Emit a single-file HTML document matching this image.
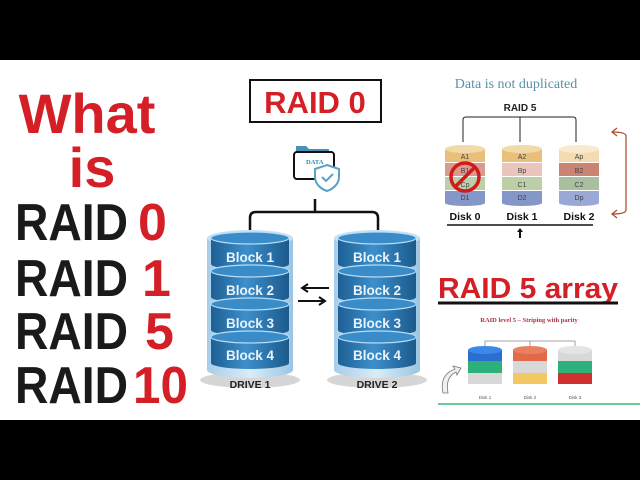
<!DOCTYPE html>
<html><head><meta charset="utf-8"><style>
html,body{margin:0;padding:0;width:640px;height:480px;overflow:hidden;background:#000}
svg{display:block}
</style></head><body>
<svg width="640" height="480" viewBox="0 0 640 480" xmlns="http://www.w3.org/2000/svg">
<defs>
<linearGradient id="bl" x1="0" x2="1">
<stop offset="0" stop-color="#1d5f94"/><stop offset="0.45" stop-color="#3d8fcb"/><stop offset="1" stop-color="#1b5a8c"/></linearGradient>
<linearGradient id="sh" x1="0" x2="1">
<stop offset="0" stop-color="#a8cde8"/><stop offset="0.5" stop-color="#d9ecf8"/><stop offset="1" stop-color="#9cc4e2"/></linearGradient>
<g id="seg">
<path d="M0,0 v26 a39,6 0 0 0 78,0 v-26 z" fill="url(#bl)"/>
<ellipse cx="39" cy="0" rx="39" ry="6" fill="#3a8cc8" stroke="#b8dcf4" stroke-width="1.2"/>
</g>
<g id="drive">
<ellipse cx="43" cy="150" rx="50" ry="8" fill="#bbb" opacity="0.6"/>
<path d="M0,8 v132 a43,8 0 0 0 86,0 v-132 z" fill="url(#sh)"/>
<ellipse cx="43" cy="8" rx="43" ry="8" fill="#c8e2f4"/>
<use href="#seg" x="4" y="8"/>
<use href="#seg" x="4" y="41"/>
<use href="#seg" x="4" y="74"/>
<use href="#seg" x="4" y="107"/>
</g>
</defs>
<rect x="0" y="60" width="640" height="360" fill="#fff"/>

<!-- left titles -->
<g font-family="Liberation Sans, sans-serif" font-weight="bold">
<text x="87" y="133" font-size="56" fill="#d41f26" text-anchor="middle">What</text>
<text x="92" y="187" font-size="56" fill="#d41f26" text-anchor="middle">is</text>
<g font-size="52">
<text x="15" y="240" fill="#1a1a1a" textLength="113" lengthAdjust="spacingAndGlyphs">RAID</text>
<text x="138" y="240" fill="#d41f26">0</text>
<text x="15" y="296" fill="#1a1a1a" textLength="113" lengthAdjust="spacingAndGlyphs">RAID</text>
<text x="142" y="296" fill="#d41f26">1</text>
<text x="15" y="349" fill="#1a1a1a" textLength="113" lengthAdjust="spacingAndGlyphs">RAID</text>
<text x="145" y="349" fill="#d41f26">5</text>
<text x="15" y="403" fill="#1a1a1a" textLength="113" lengthAdjust="spacingAndGlyphs">RAID</text>
<text x="133" y="403" fill="#d41f26" textLength="55" lengthAdjust="spacingAndGlyphs">10</text>
</g>
</g>

<!-- RAID 0 -->
<rect x="250" y="80" width="131" height="42" fill="#fff" stroke="#111" stroke-width="2"/>
<text x="315" y="113" font-family="Liberation Sans, sans-serif" font-weight="bold" font-size="31" fill="#d41f26" text-anchor="middle">RAID 0</text>

<!-- folder icon -->
<path d="M296,146 h10 l3,3 h20 v4 h-33 z" fill="#4a8fb8"/>
<rect x="294" y="152" width="40" height="27" rx="3" fill="#fff" stroke="#111" stroke-width="2"/>
<text x="306" y="164" font-family="Liberation Serif, serif" font-weight="bold" font-size="6.5" fill="#2b8fc0">DATA</text>
<path d="M327,165 l12,4 v8 c0,7 -6,12 -12,14 c-6,-2 -12,-7 -12,-14 v-8 z" fill="#fff" stroke="#5aa0c8" stroke-width="2"/>
<path d="M322,177 l4,4 l7,-7" fill="none" stroke="#5aa0c8" stroke-width="2"/>

<!-- connector -->
<path d="M315,199 v13 M250,232 v-14 q0,-6 6,-6 h116 q6,0 6,6 v14" fill="none" stroke="#111" stroke-width="2.5"/>

<use href="#drive" x="207" y="230"/>
<use href="#drive" x="334" y="230"/>
<g font-family="Liberation Sans, sans-serif" font-weight="bold" font-size="13.5" fill="#e8f3fb" text-anchor="middle">
<text x="250" y="262">Block 1</text><text x="250" y="295">Block 2</text><text x="250" y="328">Block 3</text><text x="250" y="360">Block 4</text>
<text x="377" y="262">Block 1</text><text x="377" y="295">Block 2</text><text x="377" y="328">Block 3</text><text x="377" y="360">Block 4</text>
</g>
<g font-family="Liberation Sans, sans-serif" font-weight="bold" font-size="10.5" fill="#222" text-anchor="middle">
<text x="250" y="388">DRIVE 1</text><text x="377" y="388">DRIVE 2</text>
</g>
<path d="M329,288 h-26 M308,284 l-6,4 l6,4 M298,301 h26 M319,297 l6,4 l-6,4" fill="none" stroke="#111" stroke-width="2"/>

<!-- RAID 5 top right -->
<text x="516" y="88" font-family="Liberation Serif, serif" font-size="14" fill="#5a90a8" text-anchor="middle">Data is not duplicated</text>
<text x="520" y="111" font-family="Liberation Sans, sans-serif" font-weight="bold" font-size="10" fill="#222" text-anchor="middle">RAID 5</text>
<path d="M463,142 v-22 q0,-3 3,-3 h107 q3,0 3,3 v22 M520,117 v25" fill="none" stroke="#222" stroke-width="1"/>
<g font-family="Liberation Sans, sans-serif" font-size="7" text-anchor="middle" fill="#444">
<!-- disk0 -->
<rect x="445" y="149" width="40" height="13" fill="#e8c07a"/><rect x="445" y="163" width="40" height="13" fill="#d99a90"/>
<rect x="445" y="177" width="40" height="13" fill="#bcd0a8"/><rect x="445" y="191" width="40" height="12" fill="#8596c8"/>
<ellipse cx="465" cy="149" rx="20" ry="4" fill="#f2d9a8"/><ellipse cx="465" cy="203" rx="20" ry="3" fill="#8596c8"/>
<text x="465" y="159">A1</text><text x="465" y="173">B1</text><text x="465" y="187">Cp</text><text x="465" y="200">D1</text>
<!-- disk1 -->
<rect x="502" y="149" width="40" height="13" fill="#e8c07a"/><rect x="502" y="163" width="40" height="13" fill="#ebc4be"/>
<rect x="502" y="177" width="40" height="13" fill="#bcd0a8"/><rect x="502" y="191" width="40" height="12" fill="#8596c8"/>
<ellipse cx="522" cy="149" rx="20" ry="4" fill="#f2d9a8"/><ellipse cx="522" cy="203" rx="20" ry="3" fill="#8596c8"/>
<text x="522" y="159">A2</text><text x="522" y="173">Bp</text><text x="522" y="187">C1</text><text x="522" y="200">D2</text>
<!-- disk2 -->
<rect x="559" y="149" width="40" height="13" fill="#f2dcb0"/><rect x="559" y="163" width="40" height="13" fill="#c98474"/>
<rect x="559" y="177" width="40" height="13" fill="#a9c0a0"/><rect x="559" y="191" width="40" height="12" fill="#9aa8d8"/>
<ellipse cx="579" cy="149" rx="20" ry="4" fill="#f8ead0"/><ellipse cx="579" cy="203" rx="20" ry="3" fill="#9aa8d8"/>
<text x="579" y="159">Ap</text><text x="579" y="173">B2</text><text x="579" y="187">C2</text><text x="579" y="200">Dp</text>
</g>
<circle cx="465" cy="177" r="14" fill="none" stroke="#d21a1a" stroke-width="3.5"/>
<path d="M455,187 L475,167" stroke="#d21a1a" stroke-width="3.5"/>
<g font-family="Liberation Sans, sans-serif" font-weight="bold" font-size="10.5" fill="#111" text-anchor="middle">
<text x="465" y="220">Disk 0</text><text x="522" y="220">Disk 1</text><text x="579" y="220">Disk 2</text>
</g>
<path d="M447,225 h146" stroke="#111" stroke-width="1.5"/>
<path d="M520,238 v-7" stroke="#111" stroke-width="2"/><path d="M517,232 l3,-4 l3,4 z" fill="#111"/>
<path d="M612,132 q14,0 14,4 v74 q0,4 -14,4 M617,128 l-5,4 l5,4 M617,210 l-5,4 l5,4" fill="none" stroke="#b0502e" stroke-width="1.3"/>

<!-- RAID 5 array -->
<text x="438" y="298" font-family="Liberation Sans, sans-serif" font-weight="bold" font-size="29" fill="#d41f26" textLength="180" lengthAdjust="spacingAndGlyphs">RAID 5 array</text>
<path d="M438,303 h180" stroke="#111" stroke-width="3"/>
<text x="529" y="322" font-family="Liberation Serif, serif" font-weight="bold" font-size="6.5" fill="#b03040" text-anchor="middle">RAID level 5 – Striping with parity</text>
<path d="M485,350 v-9 h90 v9 M530,341 v9" fill="none" stroke="#888" stroke-width="0.8"/>
<g>
<rect x="468" y="350" width="34" height="11" fill="#2a6fd0"/><ellipse cx="485" cy="350" rx="17" ry="4" fill="#3a88e8"/>
<rect x="468" y="361" width="34" height="12" fill="#2db07a"/><rect x="468" y="373" width="34" height="11" fill="#d8d8d8"/>
<rect x="513" y="350" width="34" height="11" fill="#e06a4a"/><ellipse cx="530" cy="350" rx="17" ry="4" fill="#ea8060"/>
<rect x="513" y="361" width="34" height="12" fill="#d8d8d8"/><rect x="513" y="373" width="34" height="11" fill="#f4c860"/>
<rect x="558" y="350" width="34" height="11" fill="#d8d8d8"/><ellipse cx="575" cy="350" rx="17" ry="4" fill="#e4e4e4"/>
<rect x="558" y="361" width="34" height="12" fill="#2db07a"/><rect x="558" y="373" width="34" height="11" fill="#d03030"/>
</g>
<g font-family="Liberation Sans, sans-serif" font-size="4.5" fill="#555" text-anchor="middle">
<text x="485" y="399">Disk 1</text><text x="530" y="399">Disk 2</text><text x="575" y="399">Disk 3</text>
</g>
<path d="M443,393 q-4,-18 12,-24 l-2,-3 l8,2 l-4,7 l-1,-3 q-11,5 -8,21 z" fill="#f0f0f0" stroke="#777" stroke-width="0.8"/>
<path d="M438,404 h202" stroke="#3cb878" stroke-width="1.5"/>
</svg>
</body></html>
